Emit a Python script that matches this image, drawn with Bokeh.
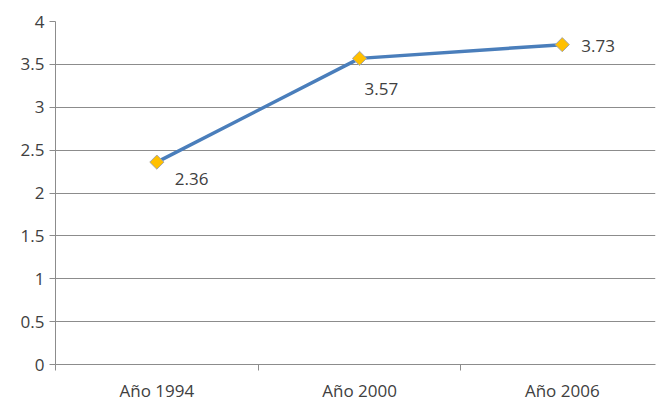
import math
from bokeh.plotting import figure
from bokeh.models import ColumnDataSource, Range1d, FixedTicker
from bokeh.core.properties import value
from bokeh.embed import file_html
from bokeh.resources import INLINE

categories = ["Año 1994", "Año 2000", "Año 2006"]
values = [2.36, 3.57, 3.73]
labels = ["2.36", "3.57", "3.73"]
y_ticks = [0, 0.5, 1, 1.5, 2, 2.5, 3, 3.5, 4]

# label placement (styling)
label_dx = [18, 5, 19]
label_dy = [17, 31, 1]

FONT = "Open Sans"
TXT = "#404040"
GRID = "#8c8c8c"

xs = list(range(len(categories)))
src = ColumnDataSource(dict(x=xs, y=values, lab=labels, dx=label_dx, dy=label_dy))

p = figure(width=657, height=404, output_backend="svg", toolbar_location=None,
           x_range=Range1d(-0.5, 2.46), y_range=Range1d(0, 4),
           min_border_left=55, min_border_top=21, min_border_bottom=40, min_border_right=2)
p.outline_line_color = None
p.background_fill_color = "white"

p.xgrid.visible = False
p.ygrid.ticker = FixedTicker(ticks=y_ticks)
p.ygrid.grid_line_color = GRID
p.ygrid.grid_line_width = 1

p.yaxis.ticker = FixedTicker(ticks=y_ticks)
p.yaxis.major_label_overrides = {t: ("%g" % t) for t in y_ticks}
p.yaxis.axis_line_color = GRID
p.yaxis.major_tick_line_color = GRID
p.yaxis.major_tick_out = 6
p.yaxis.major_tick_in = 0
p.yaxis.minor_tick_line_color = None
p.yaxis.major_label_text_font = FONT
p.yaxis.major_label_text_font_size = "17px"
p.yaxis.major_label_text_color = TXT
p.yaxis.major_label_standoff = 5

p.xaxis.ticker = FixedTicker(ticks=xs, minor_ticks=[-0.5, 0.5, 1.5, 2.5])
p.xaxis.major_label_overrides = {i: c for i, c in zip(xs, categories)}
p.xaxis.axis_line_color = GRID
p.xaxis.major_tick_line_color = None
p.xaxis.minor_tick_line_color = GRID
p.xaxis.minor_tick_out = 6
p.xaxis.minor_tick_in = 0
p.xaxis.major_label_text_font = FONT
p.xaxis.major_label_text_font_size = "17px"
p.xaxis.major_label_text_color = TXT
p.xaxis.major_label_standoff = 8

p.line("x", "y", source=src, line_color="#4A7EBB", line_width=3.5)
p.scatter("x", "y", source=src, marker="square", size=10, angle=math.pi / 4,
          fill_color="#FFC000", line_color="#A6A6A6", line_width=1)
p.text("x", "y", text="lab", source=src, x_offset="dx", y_offset="dy",
       text_font=value(FONT), text_font_size="17px", text_color=TXT,
       text_align="left", text_baseline="middle")

open("out.html", "w").write(file_html(p, INLINE))
